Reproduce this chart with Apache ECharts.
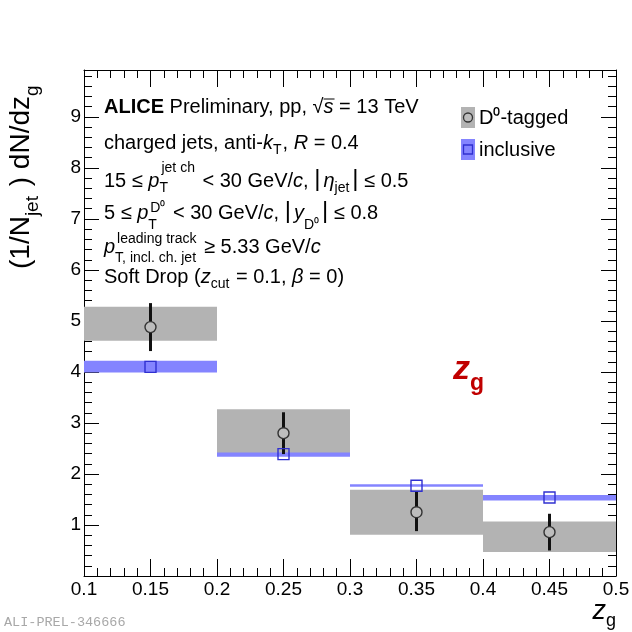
<!DOCTYPE html>
<html><head><meta charset="utf-8">
<script src="https://cdn.jsdelivr.net/npm/echarts@6/dist/echarts.min.js"></script>
<style>html,body{margin:0;padding:0;background:#fff}#c{width:632px;height:632px}</style>
</head><body><div id="c"></div>
<script>
// ---------------- data ----------------
const binLow = [0.1, 0.2, 0.3, 0.4];
const binHigh = [0.2, 0.3, 0.4, 0.5];
const binCenter = [0.15, 0.25, 0.35, 0.45];
const d0Value = [4.88, 2.80, 1.25, 0.86];
const d0StatLow = [4.41, 2.39, 0.88, 0.50];
const d0StatHigh = [5.35, 3.21, 1.65, 1.22];
const d0SysLow = [4.61, 2.36, 0.81, 0.47];
const d0SysHigh = [5.28, 3.27, 1.69, 1.07];
const inclValue = [4.10, 2.39, 1.77, 1.54];
const inclSysLow = [3.99, 2.34, 1.75, 1.48];
const inclSysHigh = [4.22, 2.42, 1.80, 1.59];
const xTickValues = [0.1, 0.15, 0.2, 0.25, 0.3, 0.35, 0.4, 0.45, 0.5];
const xTickLabels = ['0.1', '0.15', '0.2', '0.25', '0.3', '0.35', '0.4', '0.45', '0.5'];
const yTickValues = [1, 2, 3, 4, 5, 6, 7, 8, 9];
const yTickLabels = ['1', '2', '3', '4', '5', '6', '7', '8', '9'];

// ---------------- styling ----------------
const FF = '"Liberation Sans", Arial, Helvetica, sans-serif';
const GRAY = '#b3b3b3';
const BLUE = '#8484ff';
const SQ = '#3030d0';

const mctx = document.createElement('canvas').getContext('2d');
function fontStr(s) { return (s.it ? 'italic ' : '') + (s.b ? 'bold ' : '') + s.size + 'px ' + (s.ff || FF); }
function measure(t, s) { mctx.font = fontStr(s); return mctx.measureText(t).width; }
function textEl(t, x, base, s, color) {
  return { type: 'text', x: x, y: base - 0.35 * s.size, silent: true, z: 50,
    style: { text: t, fontSize: s.size, fontFamily: s.ff || FF, fontStyle: s.it ? 'italic' : 'normal',
      fontWeight: s.b ? 'bold' : 'normal', fill: color || '#000', align: 'left', verticalAlign: 'middle' } };
}
function layout(segs, x0, base, color) {
  const els = []; let x = x0; const pos = [];
  segs.forEach(sg => {
    const parts = sg.stack || [sg];
    let w = 0;
    pos.push(x);
    parts.forEach(p => {
      els.push(textEl(p.t, x + (p.dx || 0), base + (p.dy || 0), p, color));
      w = Math.max(w, measure(p.t, p) + (p.dx || 0));
    });
    x += w + (sg.gap || 0);
  });
  return { els, x, pos };
}
const FS = 20, SS = 14;
const N = (t, o) => Object.assign({ t, size: FS }, o || {});
const I = (t, o) => Object.assign({ t, size: FS, it: true }, o || {});
const B = (t, o) => Object.assign({ t, size: FS, b: true }, o || {});
const S = (t, dy, o) => Object.assign({ t, size: SS, dy }, o || {});

const TX = 104;
const lines = [
  { base: 114, segs: [B('ALICE'), N(' Preliminary, pp, '), N('√'), I('s'), N(' = 13 TeV')] },
  { base: 150, segs: [N('charged jets, anti-'), I('k'), S('T', 5, { gap: 1 }), N(', '), I('R'), N(' = 0.4')] },
  { base: 188, segs: [N('15 ≤ '), I('p'), { stack: [S('jet ch', -15, { dx: 2 }), S('T', 5)], gap: 2 }, N(' < 30 GeV/'), I('c'), N(', '),
      N('|', { size: 24, gap: 3 }), I('η'), S('jet', 5, { gap: 3 }), N('|', { size: 24 }), N(' ≤ 0.5')] },
  { base: 220, segs: [N('5 ≤ '), I('p'), { stack: [S('D⁰', -7, { dx: 2 }), S('T', 10)], gap: 2 }, N(' < 30 GeV/'), I('c'), N(', '),
      N('|', { size: 24, gap: 3 }), I('y'), S('D⁰', 10, { gap: 3 }), N('|', { size: 24 }), N(' ≤ 0.8')] },
  { base: 254, segs: [I('p'), { stack: [S('leading track', -10, { dx: 2 }), S('T, incl. ch. jet', 9)], gap: 2 }, N(' ≥ 5.33 GeV/'), I('c')] },
  { base: 284, segs: [N('Soft Drop ('), I('z'), S('cut', 5, { gap: 1 }), N(' = 0.1, '), I('β'), N(' = 0)')] }
];
const graphics = [];
lines.forEach((ln, i) => {
  const r = layout(ln.segs, TX, ln.base);
  graphics.push(...r.els);
  if (i === 0) {
    const xs = r.pos[3], ws = measure('s', I('s'));
    graphics.push({ type: 'line', silent: true, z: 50, shape: { x1: xs, y1: ln.base - 15, x2: xs + ws + 1, y2: ln.base - 15 }, style: { stroke: '#000', lineWidth: 1 } });
  }
});

// legend
graphics.push({ type: 'rect', silent: true, z: 50, shape: { x: 461, y: 107, width: 14, height: 21 }, style: { fill: GRAY } });
graphics.push({ type: 'circle', silent: true, z: 51, shape: { cx: 468, cy: 117.5, r: 4.5 }, style: { fill: '#bdbdbd', stroke: '#333', lineWidth: 1.3 } });
graphics.push({ type: 'rect', silent: true, z: 50, shape: { x: 461, y: 139, width: 14, height: 21 }, style: { fill: BLUE } });
graphics.push({ type: 'rect', silent: true, z: 51, shape: { x: 463.5, y: 145, width: 9, height: 9 }, style: { fill: 'none', stroke: SQ, lineWidth: 1.3 } });
graphics.push(...layout([N('D⁰-tagged')], 479, 125).els);
graphics.push(...layout([N('inclusive')], 479, 157).els);

// red z_g
graphics.push(...layout([{ t: 'z', size: 34, it: true, b: true }, { t: 'g', size: 23, b: true, dy: 10 }], 453, 382, '#c00000').els);

// x-axis title (right-aligned at axis end)
const xt = [{ t: 'z', size: 27, it: true }, { t: 'g', size: 18, dy: 6 }];
const xtw = measure('z', xt[0]) + measure('g', xt[1]);
graphics.push(...layout(xt, 616 - xtw, 621).els);

// y-axis title, rotated
const yt = layout([{ t: '(1/N', size: 28 }, { t: 'jet', size: 19, dy: 8, gap: 2 }, { t: ' ) dN/dz', size: 28 }, { t: 'g', size: 19, dy: 8 }], 0, 0);
graphics.push({ type: 'group', x: 31, y: 269, rotation: Math.PI / 2, children: yt.els });

// preliminary id
graphics.push(textEl('ALI-PREL-346666', 4, 627, { size: 13.5, ff: '"Liberation Mono", "DejaVu Sans Mono", monospace' }, '#a8a8a8'));

// ---------------- series data ----------------
const boxData = binLow.map((lo, i) => [lo, binHigh[i], d0SysLow[i], d0SysHigh[i]]);
const bandData = binLow.map((lo, i) => [lo, binHigh[i], inclSysLow[i], inclSysHigh[i]]);
const errData = binCenter.map((c, i) => [c, d0StatLow[i], d0StatHigh[i]]);
const d0Points = binCenter.map((c, i) => [c, d0Value[i]]);
const inclPoints = binCenter.map((c, i) => [c, inclValue[i]]);

function rectRender(color) {
  return function (params, api) {
    const p1 = api.coord([api.value(0), api.value(3)]);
    const p2 = api.coord([api.value(1), api.value(2)]);
    return { type: 'rect', shape: { x: p1[0], y: p1[1], width: p2[0] - p1[0], height: p2[1] - p1[1] }, style: { fill: color } };
  };
}

const axisCommon = {
  type: 'value',
  axisLine: { onZero: false, lineStyle: { color: '#000', width: 1 } },
  splitLine: { show: false },
  minorSplitLine: { show: false }
};
const xLab = v => { const k = xTickValues.findIndex(t => Math.abs(t - v) < 1e-6); return k >= 0 ? xTickLabels[k] : ''; };
const yLab = v => { const k = yTickValues.findIndex(t => Math.abs(t - v) < 1e-6); return k >= 0 ? yTickLabels[k] : ''; };

const option = {
  animation: false,
  backgroundColor: '#fff',
  grid: { left: 84, right: 16, top: 70, bottom: 56, outerBoundsMode: 'none', containLabel: false },
  xAxis: [
    Object.assign({}, axisCommon, { position: 'bottom', min: 0.1, max: 0.5, interval: 0.05,
      axisTick: { inside: true, length: 17, lineStyle: { color: '#000' } },
      minorTick: { show: true, splitNumber: 5, length: 8, lineStyle: { color: '#000' } },
      axisLabel: { margin: 4, fontSize: 19, color: '#000', fontFamily: FF, formatter: xLab, showMinLabel: true, showMaxLabel: true } }),
    Object.assign({}, axisCommon, { position: 'top', min: 0.1, max: 0.5, interval: 0.05,
      axisTick: { inside: true, length: 17, lineStyle: { color: '#000' } },
      minorTick: { show: true, splitNumber: 5, length: 8, lineStyle: { color: '#000' } },
      axisLabel: { show: false } })
  ],
  yAxis: [
    Object.assign({}, axisCommon, { position: 'left', min: 0, max: 9.92, interval: 1,
      axisTick: { inside: true, length: 15, lineStyle: { color: '#000' } },
      minorTick: { show: true, splitNumber: 5, length: 8, lineStyle: { color: '#000' } },
      axisLabel: { margin: 3, fontSize: 19, color: '#000', fontFamily: FF, formatter: yLab } }),
    Object.assign({}, axisCommon, { position: 'right', min: 0, max: 9.92, interval: 1,
      axisTick: { inside: true, length: 15, lineStyle: { color: '#000' } },
      minorTick: { show: true, splitNumber: 5, length: 8, lineStyle: { color: '#000' } },
      axisLabel: { show: false } })
  ],
  series: [
    { type: 'custom', name: 'D0 sys', z: 2, clip: true, renderItem: rectRender(GRAY), data: boxData, silent: true },
    { type: 'custom', name: 'incl sys', z: 3, clip: true, renderItem: rectRender(BLUE), data: bandData, silent: true },
    { type: 'custom', name: 'D0 stat', z: 4, clip: true, silent: true, data: errData,
      renderItem: function (params, api) {
        const a = api.coord([api.value(0), api.value(1)]);
        const b = api.coord([api.value(0), api.value(2)]);
        return { type: 'line', shape: { x1: a[0], y1: a[1], x2: b[0], y2: b[1] }, style: { stroke: '#111', lineWidth: 3 } };
      } },
    { type: 'scatter', name: 'D0-tagged', z: 5, data: d0Points, symbol: 'circle', symbolSize: 11, silent: true,
      itemStyle: { color: '#bdbdbd', borderColor: '#333', borderWidth: 1.4, opacity: 1 } },
    { type: 'scatter', name: 'inclusive', z: 6, data: inclPoints, symbol: 'rect', symbolSize: 11, silent: true,
      itemStyle: { color: 'rgba(0,0,0,0)', borderColor: SQ, borderWidth: 1.4, opacity: 1 } }
  ],
  graphic: graphics
};
const chart = echarts.init(document.getElementById('c'), null, { renderer: 'canvas' });
chart.setOption(option);
</script></body></html>
